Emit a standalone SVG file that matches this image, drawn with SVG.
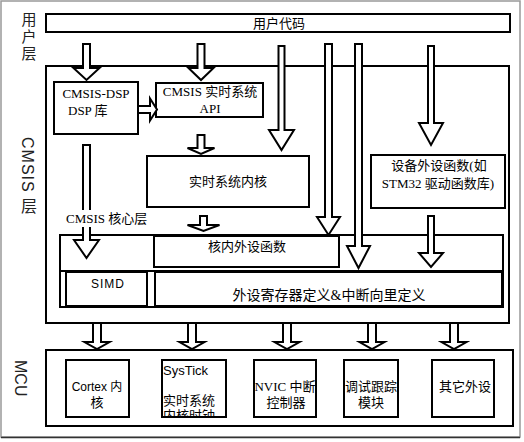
<svg xmlns="http://www.w3.org/2000/svg" width="524" height="442" viewBox="0 0 524 442">
<style>
.box{fill:#fff;stroke:#000;stroke-width:2}
.nf{fill:none;stroke:#000;stroke-width:2}
.arr{fill:#fff;stroke:#000;stroke-width:2;stroke-linejoin:miter}
.t{font-family:"Liberation Serif","Noto Sans CJK SC",serif;font-size:13px;fill:#000}
.s{font-family:"Liberation Sans","Noto Sans CJK SC",sans-serif;font-size:13px;fill:#000}
.c{text-anchor:middle}
.v{font-family:"Liberation Sans","Noto Sans CJK SC",sans-serif;font-size:16px;fill:#222;writing-mode:vertical-rl}
</style>
<defs>
<clipPath id="clipSys"><rect x="163" y="361" width="62" height="55"/></clipPath>
</defs>
<rect x="0" y="0" width="524" height="442" fill="#fff"/>
<rect x="1" y="1" width="519" height="436" fill="none" stroke="#999" stroke-width="1.5"/>
<line x1="1" y1="437.5" x2="520" y2="437.5" stroke="#333" stroke-width="1.5"/>

<g id="layer-labels">
<text class="v" x="28" y="12" style="font-size:15px;letter-spacing:2px">用户层</text>
<text class="v" x="27.5" y="137" style="letter-spacing:1px">CMSIS 层</text>
<text class="v" x="20.5" y="360">MCU</text>
</g>

<g id="user-code">
<rect class="box" x="46" y="14" width="464" height="18"/>
<text class="t c" x="279" y="27.5">用户代码</text>
</g>

<g id="cmsis-layer">
<rect class="box" x="46" y="66" width="463" height="257"/>
</g>

<g id="cmsis-dsp">
<rect class="box" x="54" y="82" width="84" height="52"/>
<text class="t c" x="96" y="97.5">CMSIS-DSP</text>
<text class="t" x="68" y="114.5">DSP 库</text>
</g>

<g id="rtos-api">
<rect class="box" x="156" y="83" width="107" height="34"/>
<text class="t c" x="210" y="95.5">CMSIS 实时系统</text>
<text class="t c" x="210" y="112.5">API</text>
</g>

<g id="rtos-kernel">
<rect class="box" x="147" y="156" width="162" height="51"/>
<text class="t c" x="228" y="185.5">实时系统内核</text>
</g>

<g id="device-periph">
<rect class="box" x="371" y="155" width="134" height="53"/>
<text class="t c" x="439" y="169.5">设备外设函数(如</text>
<text class="t c" x="438" y="187.5">STM32 驱动函数库)</text>
</g>

<g id="cmsis-core">
<rect class="box" x="60" y="235" width="443" height="72"/>
<line class="nf" x1="60" y1="271" x2="503" y2="271"/>
</g>

<g id="core-periph-func">
<rect class="box" x="154" y="236" width="185" height="31"/>
<text class="t c" x="247" y="250.5">核内外设函数</text>
</g>

<g id="simd">
<rect class="box" x="66" y="272" width="81" height="34"/>
<text class="s c" x="108" y="287.5" style="font-size:12px;letter-spacing:1px">SIMD</text>
</g>

<g id="periph-reg">
<rect class="box" x="155" y="272" width="347" height="34"/>
<text class="t c" x="329" y="300" style="font-size:14px">外设寄存器定义&amp;中断向里定义</text>
</g>

<g id="mcu">
<rect class="box" x="46" y="350" width="467" height="76"/>
</g>

<g id="cortex">
<rect class="box" x="66" y="360" width="63" height="57"/>
<text class="s c" x="97" y="390.5" style="font-size:12px">Cortex 内</text>
<text class="s c" x="97" y="406.5">核</text>
</g>

<g id="systick">
<rect class="box" x="162" y="360" width="64" height="57"/>
<g clip-path="url(#clipSys)">
<text class="s" x="163" y="374.5">SysTick</text>
<text class="s" x="163" y="404.5">实时系统</text>
<text class="s" x="163" y="420">内核时钟</text>
</g>
</g>

<g id="nvic">
<rect class="box" x="254" y="360" width="62" height="57"/>
<text class="t c" x="285" y="390.5">NVIC 中断</text>
<text class="t c" x="286" y="406.5">控制器</text>
</g>

<g id="debug">
<rect class="box" x="344" y="360" width="54" height="57"/>
<text class="t c" x="371" y="390.5">调试跟踪</text>
<text class="t c" x="371" y="406.5">模块</text>
</g>

<g id="other">
<rect class="box" x="432" y="360" width="62" height="57"/>
<text class="t c" x="465" y="390.5">其它外设</text>
</g>

<g id="connectors">
<polygon class="arr" points="83,44 90,44 90,68 99.5,68 86.5,80 73.5,68 83,68"/>
<polygon class="arr" points="197.5,44 204.5,44 204.5,68 213.5,68 201,80 188.5,68 197.5,68"/>
<polygon class="arr" points="138,106 150,106 150,98.5 157,109.5 150,120.5 150,113 138,113"/>
<polygon class="arr" points="197.5,135 204.5,135 204.5,148 214.5,148 201,154 187.5,148 197.5,148"/>
<polygon class="arr" points="200,216 207,216 207,225 219.5,225 203.5,231 187.5,225 200,225"/>
<polygon class="arr" points="83,145 90,145 90,240 99,240 86.5,258 74,240 83,240"/>
<polygon class="arr" points="278.5,46 284.5,46 284.5,130 294,130 281.5,150 269,130 278.5,130"/>
<polygon class="arr" points="325,44 332,44 332,217 340,217 328.5,235 317,217 325,217"/>
<polygon class="arr" points="355,44 362,44 362,246 370,246 358.5,268 347,246 355,246"/>
<polygon class="arr" points="428,46 434,46 434,123 443,123 431,145 419,123 428,123"/>
<polygon class="arr" points="428,216 434,216 434,253 443,253 431,267 419,253 428,253"/>
<polygon class="arr" points="93,323 101,323 101,342 109.5,342 97,349 84.5,342 93,342"/>
<polygon class="arr" points="188,323 196,323 196,342 204.5,342 192,349 179.5,342 188,342"/>
<polygon class="arr" points="283,323 291,323 291,342 299.5,342 287,349 274.5,342 283,342"/>
<polygon class="arr" points="368,323 376,323 376,342 384.5,342 372,349 359.5,342 368,342"/>
<polygon class="arr" points="450,323 458,323 458,342 466.5,342 454,349 441.5,342 450,342"/>
</g>

<g id="core-label">
<rect x="66" y="210" width="80" height="17" fill="#fff"/>
<text class="t" x="66" y="222.5">CMSIS 核心层</text>
</g>
</svg>
